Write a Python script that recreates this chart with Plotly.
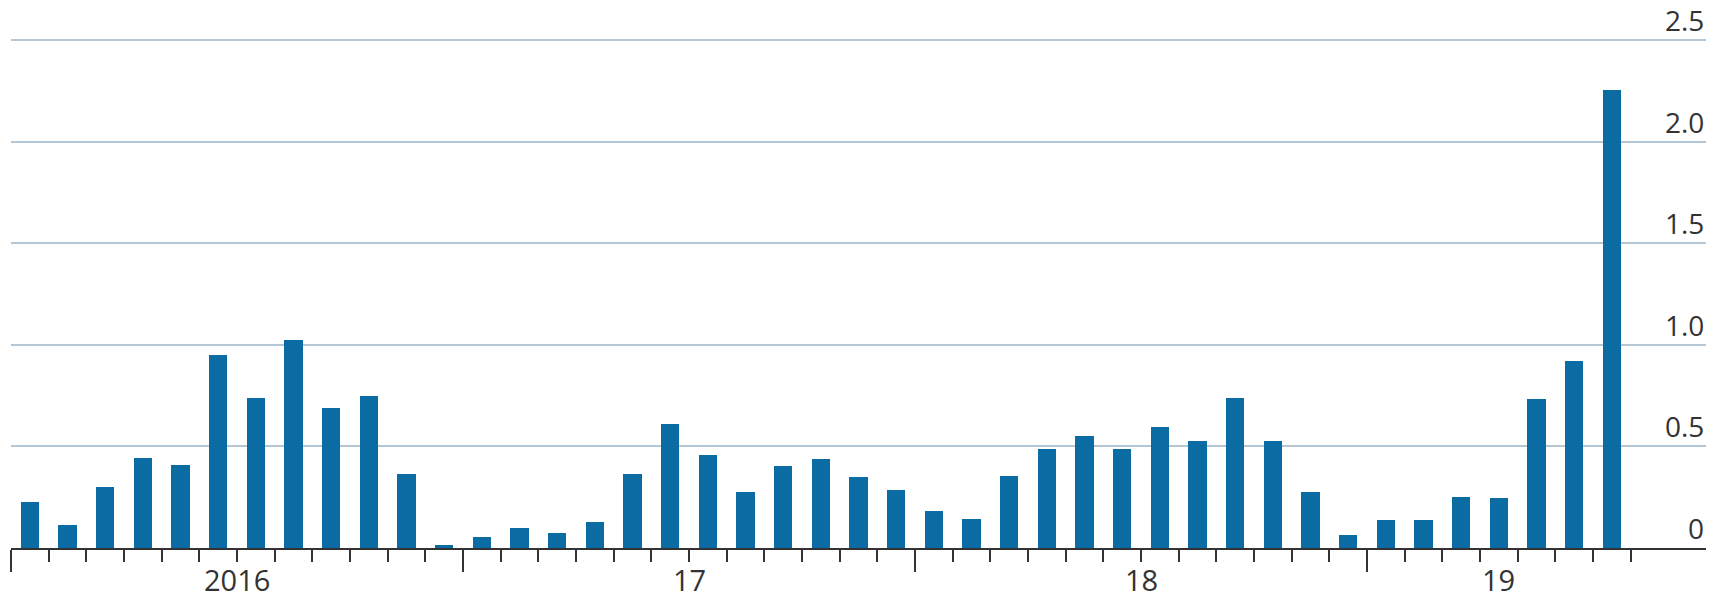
import plotly.graph_objects as go

# ---- data ----
years = ["2016", "17", "18", "19"]
months_per_year = [12, 12, 12, 7]
values_2016 = [0.228, 0.115, 0.299, 0.441, 0.407, 0.951, 0.738, 1.024, 0.690, 0.750, 0.366, 0.013]
values_2017 = [0.056, 0.100, 0.074, 0.126, 0.363, 0.609, 0.456, 0.277, 0.402, 0.440, 0.351, 0.287]
values_2018 = [0.181, 0.143, 0.356, 0.489, 0.550, 0.487, 0.596, 0.527, 0.738, 0.527, 0.274, 0.066]
values_2019 = [0.136, 0.138, 0.251, 0.246, 0.735, 0.920, 2.255]
y_ticks = [0, 0.5, 1.0, 1.5, 2.0, 2.5]
y_tick_labels = ["0", "0.5", "1.0", "1.5", "2.0", "2.5"]

values = values_2016 + values_2017 + values_2018 + values_2019
x = list(range(len(values)))

BAR = "#0a6ca3"
GRID = "#b5c6d4"
TEXT = "#333333"
FONT = "Open Sans"

fig = go.Figure(go.Bar(x=x, y=values, width=0.49, marker=dict(color=BAR, line=dict(width=0))))

# year boundaries & label positions
starts = []
s = 0
for n in months_per_year:
    starts.append(s)
    s += n
boundaries = [b - 0.5 for b in starts]
month_bounds = [i - 0.5 for i in range(len(values) + 1)]

annotations = []
for yr, st, n in zip(years, starts, months_per_year):
    annotations.append(dict(
        x=st + (n - 1) / 2, y=0, xref="x", yref="paper",
        text=yr, showarrow=False, yanchor="top", xanchor="center",
        yshift=-11, borderpad=0, font=dict(family=FONT, size=29, color=TEXT)))

# y tick labels sitting just above their gridlines at the right edge
for v, lab in zip(y_ticks, y_tick_labels):
    annotations.append(dict(
        x=1, y=v, xref="paper", yref="y",
        text=lab, showarrow=False, xanchor="right", yanchor="bottom",
        yshift=-1, font=dict(family=FONT, size=28, color=TEXT)))

fig.update_layout(
    width=1725, height=595,
    margin=dict(l=11, r=19, t=38, b=47),
    paper_bgcolor="white", plot_bgcolor="white",
    showlegend=False,
    bargap=0,
    annotations=annotations,
    xaxis=dict(
        range=[-0.5, 44.5],
        showgrid=False, zeroline=False,
        showline=True, linecolor=TEXT, linewidth=2,
        tickmode="array", tickvals=boundaries, ticks="outside",
        ticklen=22, tickwidth=2, tickcolor=TEXT, showticklabels=False,
        minor=dict(tickmode="array", tickvals=month_bounds, ticks="outside",
                   ticklen=12, tickwidth=2, tickcolor=TEXT, showgrid=False),
    ),
    yaxis=dict(
        range=[0, 2.51], side="right",
        tickmode="array", tickvals=y_ticks, showticklabels=False, ticks="",
        showgrid=True, gridcolor=GRID, gridwidth=2,
        zeroline=False, showline=False,
    ),
)

fig.write_html("out.html", config={"displayModeBar": False},
               post_script="document.body.style.margin='0';")
